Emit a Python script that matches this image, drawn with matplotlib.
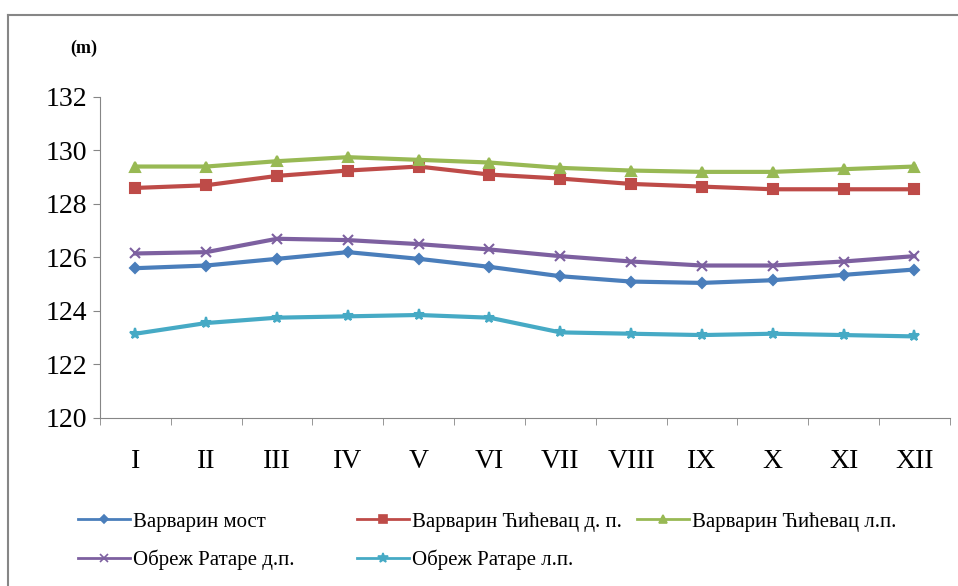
import matplotlib
matplotlib.use("Agg")
import matplotlib.pyplot as plt
from matplotlib.lines import Line2D

plt.rcParams['font.family'] = ['Liberation Serif', 'DejaVu Serif']

months = ["I", "II", "III", "IV", "V", "VI", "VII", "VIII", "IX", "X", "XI", "XII"]

varvarin_most = [125.6, 125.7, 125.95, 126.2, 125.95, 125.65, 125.3, 125.1, 125.05, 125.15, 125.35, 125.55]
varvarin_cicevac_dp = [128.6, 128.7, 129.05, 129.25, 129.4, 129.1, 128.95, 128.75, 128.65, 128.55, 128.55, 128.55]
varvarin_cicevac_lp = [129.4, 129.4, 129.6, 129.75, 129.65, 129.55, 129.35, 129.25, 129.2, 129.2, 129.3, 129.4]
obrez_ratare_dp = [126.15, 126.2, 126.7, 126.65, 126.5, 126.3, 126.05, 125.85, 125.7, 125.7, 125.85, 126.05]
obrez_ratare_lp = [123.15, 123.55, 123.75, 123.8, 123.85, 123.75, 123.2, 123.15, 123.1, 123.15, 123.1, 123.05]

labels = ["Варварин мост", "Варварин Ћићевац д. п.", "Варварин Ћићевац л.п.",
          "Обреж Ратаре д.п.", "Обреж Ратаре л.п."]

series = [varvarin_most, varvarin_cicevac_dp, varvarin_cicevac_lp, obrez_ratare_dp, obrez_ratare_lp]
colors = ["#4A7EBB", "#BE4B48", "#98B954", "#7D60A0", "#46AAC5"]
markers = ["D", "s", "^", "x", "*"]
msizes = [5, 7, 7, 7, 8]

fig = plt.figure(figsize=(9.58, 5.86), dpi=100)
ax = fig.add_axes([0.1044, 0.2867, 0.887, 0.5478])

# outer chart frame, only top and left edge fall inside the image
fig.add_artist(Line2D([0.0085, 0.0085], [0.0, 0.974], transform=fig.transFigure,
                      color="#868686", lw=1.5))
fig.add_artist(Line2D([0.0085, 1.0], [0.974, 0.974], transform=fig.transFigure,
                      color="#868686", lw=1.5))

x = list(range(len(months)))
proxies = []
for vals, c, m, ms in zip(series, colors, markers, msizes):
    ax.plot(x, vals, color=c, lw=3, marker=m, ms=ms, mew=1.5)
    proxies.append(Line2D([], [], color=c, lw=2, marker=m, ms=ms - 1, mew=1.2))

ax.set_xlim(-0.5, 11.5)
ax.set_ylim(120, 132)
ax.set_yticks(range(120, 133, 2))
ax.set_xticks(x)
ax.set_xticklabels(months, fontsize=20)
ax.set_xticks([i + 0.5 for i in range(-1, 12)], minor=True)
ax.tick_params(axis="x", which="major", length=0, pad=22)
ax.tick_params(axis="x", which="minor", length=5, color="#868686")
ax.tick_params(axis="y", labelsize=20, length=5, color="#868686", pad=4)
for s in ["top", "right"]:
    ax.spines[s].set_visible(False)
for s in ["left", "bottom"]:
    ax.spines[s].set_color("#868686")

fig.text(0.087, 0.918, "(m)", fontsize=13, fontweight="bold", ha="center", va="center")

# legend laid out as three equal columns
columns = [[0, 3], [1, 4], [2]]
col_x = [78 / 958, 357 / 958, 637 / 958]
for idx, cx in zip(columns, col_x):
    fig.legend([proxies[i] for i in idx], [labels[i] for i in idx],
               loc="upper left", bbox_to_anchor=(cx, 1 - 512 / 586), frameon=False,
               fontsize=15, handlelength=2.5, handletextpad=0.15, borderpad=0,
               borderaxespad=0, labelspacing=0.85)

fig.savefig("out.png", dpi=100)
